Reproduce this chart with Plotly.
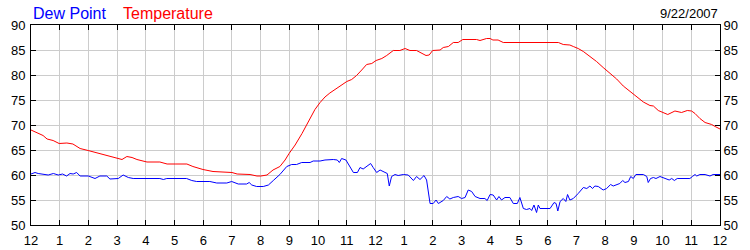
import plotly.graph_objects as go

# X tick labels (hour of day, 12-hour clock)
hour_ticks = list(range(0, 25))
hour_labels = ["12", "1", "2", "3", "4", "5", "6", "7", "8", "9", "10", "11",
               "12", "1", "2", "3", "4", "5", "6", "7", "8", "9", "10", "11", "12"]

# Temperature series (hours since midnight, deg F)
temp_hours = [0.00, 0.24, 0.42, 0.56, 0.77, 0.98, 1.25, 1.46, 1.71, 1.99, 2.40, 2.65,
              3.00, 3.17, 3.34, 3.52, 3.69, 4.04, 4.49, 4.74, 5.02, 5.43, 5.64, 5.99,
              6.34, 6.83, 7.00, 7.18, 7.63, 7.87, 8.01, 8.22, 8.43, 8.67, 8.85, 8.99,
              9.20, 9.44, 9.61, 9.72, 9.89, 10.07, 10.24, 10.41, 10.59, 10.76, 11.00,
              11.17, 11.34, 11.52, 11.69, 11.87, 12.02, 12.22, 12.39, 12.62, 12.85,
              13.03, 13.20, 13.43, 13.61, 13.76, 13.87, 13.99, 14.25, 14.36, 14.54,
              14.71, 14.88, 15.04, 15.52, 15.64, 15.87, 15.99, 16.09, 16.27, 16.45,
              17.03, 18.08, 18.37, 18.54, 18.77, 18.89, 19.06, 19.24, 19.47, 19.70,
              19.93, 20.17, 20.40, 20.63, 20.86, 21.10, 21.33, 21.56, 21.68, 21.85,
              22.02, 22.18, 22.43, 22.66, 22.86, 23.01, 23.13, 23.30, 23.48, 23.71,
              23.83, 24.00]
temp_values = [69.0, 68.3, 67.9, 67.2, 66.9, 66.3, 66.4, 66.2, 65.3, 64.9, 64.3, 64.0,
               63.5, 63.1, 63.7, 63.5, 63.1, 62.6, 62.6, 62.2, 62.2, 62.2, 61.7, 61.1,
               60.7, 60.5, 60.5, 60.2, 60.1, 59.8, 59.8, 60.0, 61.0, 61.7, 63.0, 64.3,
               66.0, 68.3, 70.0, 71.2, 73.1, 74.5, 75.6, 76.4, 77.1, 77.8, 78.7,
               79.1, 79.9, 81.0, 82.1, 82.3, 82.9, 83.3, 83.9, 84.9, 84.9,
               85.3, 84.9, 84.9, 84.3, 83.9, 84.0, 84.9, 85.0, 85.5, 85.7,
               86.5, 86.5, 87.1, 87.1, 86.9, 87.3, 87.3, 87.0, 87.0, 86.5,
               86.5, 86.5, 86.5, 86.1, 86.0, 85.7, 85.3, 84.7, 83.7, 82.7,
               81.5, 80.3, 79.2, 77.8, 76.7, 75.6, 74.6, 73.9, 73.8, 72.9,
               72.5, 72.1, 72.8, 72.5, 72.9, 72.8, 72.3, 71.3, 70.5, 70.1,
               69.7, 69.2]

# Dew point series (hours since midnight, deg F)
dew_hours = [0.00, 0.14, 0.25, 0.43, 0.60, 0.78, 0.95, 1.10, 1.24, 1.36, 1.47, 1.59,
             1.71, 2.00, 2.23, 2.40, 2.64, 2.75, 2.93, 3.04, 3.21, 3.39, 3.56, 4.03,
             4.49, 4.61, 4.73, 5.42, 5.60, 5.77, 6.23, 6.47, 6.82, 6.99, 7.11, 7.22,
             7.51, 7.60, 7.69, 7.86, 8.09, 8.27, 8.44, 8.67, 8.91, 9.08, 9.25, 9.43,
             9.72, 9.83, 10.07, 10.24, 10.53, 10.67, 10.74, 10.82, 10.97, 11.05,
             11.23, 11.37, 11.46, 11.57, 11.69, 11.83, 11.92, 12.04, 12.16, 12.33,
             12.41, 12.48, 12.56, 12.68, 12.79, 12.97, 13.14, 13.32, 13.43, 13.55,
             13.69, 13.78, 13.90, 14.01, 14.11, 14.19, 14.36, 14.48, 14.59, 14.71,
             14.88, 15.00, 15.12, 15.23, 15.35, 15.47, 15.64, 15.81, 15.89, 15.99,
             16.10, 16.22, 16.30, 16.39, 16.51, 16.68, 16.80, 16.94, 17.03, 17.15,
             17.26, 17.38, 17.44, 17.52, 17.61, 17.67, 17.73, 18.08, 18.14, 18.22,
             18.29, 18.35, 18.43, 18.54, 18.63, 18.69, 18.77, 18.89, 19.06, 19.24,
             19.36, 19.47, 19.56, 19.64, 19.76, 19.93, 20.05, 20.19, 20.28, 20.40,
             20.51, 20.61, 20.69, 20.81, 20.89, 20.98, 21.07, 21.33, 21.45, 21.50,
             21.58, 21.68, 21.77, 21.91, 22.08, 22.23, 22.32, 22.41, 22.51, 22.95,
             23.04, 23.13, 23.19, 23.30, 23.48, 23.65, 23.76, 24.00]
dew_values = [60.2, 60.5, 60.3, 60.2, 60.0, 60.3, 60.0, 60.2, 59.8, 60.3, 60.2, 60.5,
              59.8, 59.8, 59.3, 59.8, 59.8, 59.2, 59.2, 59.3, 60.0, 59.5, 59.3, 59.3,
              59.3, 59.1, 59.3, 59.3, 58.9, 58.7, 58.7, 58.4, 58.4, 58.7, 58.5, 58.2,
              58.2, 58.5, 58.0, 57.7, 57.7, 58.0, 58.9, 60.1, 61.7, 62.1, 62.1, 62.5,
              62.5, 62.8, 62.8, 63.0, 63.1, 63.0, 62.5, 63.3, 63.0, 62.3,
              60.5, 60.5, 61.5, 61.2, 61.7, 62.3, 61.5, 60.5, 61.0, 60.5,
              60.3, 57.8, 59.7, 60.1, 59.9, 60.1, 60.0, 58.9, 59.7, 59.1,
              59.9, 59.0, 54.3, 54.3, 55.0, 54.3, 54.9, 55.7, 55.2, 55.5,
              55.7, 55.3, 55.5, 57.0, 56.7, 55.7, 55.3, 55.3, 54.9, 56.1,
              56.0, 55.0, 55.7, 55.0, 55.5, 55.5, 54.3, 54.3, 55.5, 53.3,
              53.1, 53.3, 52.9, 54.0, 52.5, 54.0, 53.3, 53.3, 53.8, 54.5,
              54.3, 52.8, 54.7, 55.3, 54.7, 56.1, 55.0, 55.3, 56.3, 57.5,
              57.3, 57.8, 57.3, 57.8, 57.7, 57.0, 57.3, 58.1, 57.8, 58.0,
              58.3, 58.9, 58.5, 58.7, 59.7, 59.3, 60.1, 60.1, 59.7, 58.5,
              59.3, 59.5, 59.3, 59.7, 59.3, 59.0, 59.3, 58.9, 59.3, 59.3,
              59.7, 60.1, 59.8, 60.1, 60.1, 59.8, 60.1, 60.1]

y_ticks = [50, 55, 60, 65, 70, 75, 80, 85, 90]
date_label = "9/22/2007"

FONT = "Liberation Sans, Arial, sans-serif"
GRID = "#cccccc"

fig = go.Figure()
fig.add_trace(go.Scatter(x=dew_hours, y=dew_values, mode="lines", name="Dew Point",
                         line=dict(color="#0000ff", width=1), yaxis="y"))
fig.add_trace(go.Scatter(x=temp_hours, y=temp_values, mode="lines", name="Temperature",
                         line=dict(color="#ff0000", width=1), yaxis="y2"))

axis_common = dict(ticks="inside", ticklen=5, tickcolor="black", tickwidth=1,
                   showline=True, linecolor="black", linewidth=1, automargin=False,
                   tickfont=dict(family=FONT, size=13, color="black"), zeroline=False)

fig.update_layout(
    width=750, height=250,
    margin=dict(l=31, r=30, t=25, b=25, pad=0, autoexpand=False),
    paper_bgcolor="white", plot_bgcolor="white",
    showlegend=False,
    xaxis=dict(range=[0, 24], tickmode="array", tickvals=hour_ticks, ticktext=hour_labels,
               showgrid=True, gridcolor=GRID, gridwidth=1, mirror="ticks",
               ticklabelstandoff=3, **axis_common),
    yaxis=dict(range=[50, 90], tickmode="array", tickvals=y_ticks,
               showgrid=True, gridcolor=GRID, gridwidth=1, mirror="ticks",
               ticklabelstandoff=2, **axis_common),
    yaxis2=dict(range=[50, 90], tickmode="array", tickvals=y_ticks, overlaying="y",
                side="right", showgrid=False, **axis_common),
    annotations=[
        dict(text="Dew Point", xref="paper", yref="paper", x=0, y=1, xanchor="left",
             yanchor="bottom", xshift=0, yshift=1, showarrow=False,
             font=dict(family=FONT, size=16, color="#0000ff")),
        dict(text="Temperature", xref="paper", yref="paper", x=0, y=1, xanchor="left",
             yanchor="bottom", xshift=90, yshift=1, showarrow=False,
             font=dict(family=FONT, size=16, color="#ff0000")),
        dict(text=date_label, xref="paper", yref="paper", x=1, y=1, xanchor="right",
             yanchor="bottom", xshift=0, yshift=2, showarrow=False,
             font=dict(family=FONT, size=13, color="black")),
    ],
)

fig.write_html("out.html")
